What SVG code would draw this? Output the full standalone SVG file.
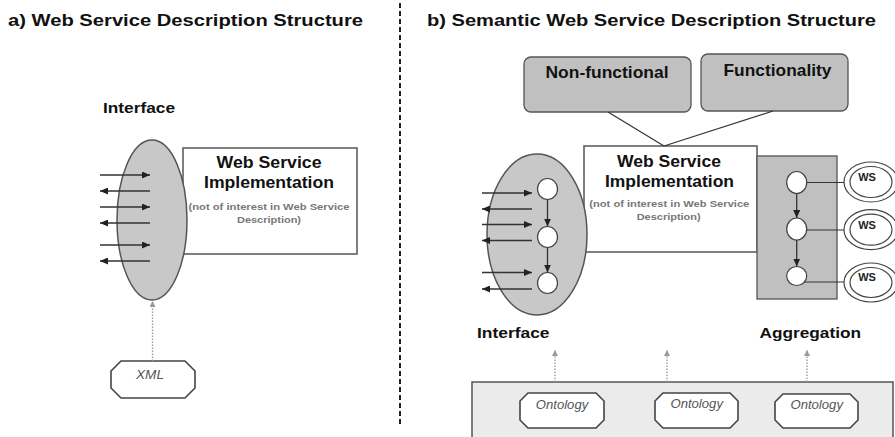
<svg xmlns="http://www.w3.org/2000/svg" width="895" height="437" viewBox="0 0 895 437">
<style>
.title{font-family:"Liberation Sans",Arial,sans-serif;font-weight:bold;font-size:16px;fill:#111}
.lbl{font-family:"Liberation Sans",Arial,sans-serif;font-weight:bold;font-size:15px;fill:#111}
.big{font-family:"Liberation Sans",Arial,sans-serif;font-weight:bold;font-size:17px;fill:#111;text-anchor:middle}
.small{font-family:"Liberation Sans",Arial,sans-serif;font-weight:bold;font-size:9.5px;fill:#777;text-anchor:middle}
.ital{font-family:"Liberation Sans",Arial,sans-serif;font-style:italic;font-size:12.5px;fill:#555;text-anchor:middle}
.ws{font-family:"Liberation Sans",Arial,sans-serif;font-weight:bold;font-size:11px;fill:#222;text-anchor:middle}
.iface{fill:#c8c8c8;stroke:#555;stroke-width:1.5}
.impl{fill:#fff;stroke:#555;stroke-width:1.5}
.grey{fill:#c0c0c0;stroke:#555;stroke-width:1.3}
.node{fill:#fff;stroke:#444;stroke-width:1.2}
.oct{fill:#fff;stroke:#444;stroke-width:1.6}
.arr{stroke:#333;stroke-width:1.3;fill:none;marker-end:url(#ah)}
.dot{stroke:#999;stroke-width:1.3;stroke-dasharray:1.5 1.5;fill:none;marker-end:url(#gh)}
.ln{stroke:#333;stroke-width:1.2;fill:none}
</style>
<defs>
<marker id="ah" markerUnits="userSpaceOnUse" markerWidth="8" markerHeight="7" refX="8" refY="3.5" orient="auto"><path d="M0,0 L8,3.5 L0,7 z" fill="#222"/></marker>
<marker id="gh" markerUnits="userSpaceOnUse" markerWidth="6" markerHeight="6" refX="6" refY="3" orient="auto"><path d="M0,0 L6,3 L0,6 z" fill="#999"/></marker>
</defs>
<rect width="895" height="437" fill="#fff"/>

<!-- titles and divider -->
<text class="title" x="8" y="26" textLength="355" lengthAdjust="spacingAndGlyphs">a)  Web Service Description Structure</text>
<text class="title" x="427" y="26" textLength="449" lengthAdjust="spacingAndGlyphs">b)  Semantic Web Service Description Structure</text>
<line x1="400" y1="3" x2="400" y2="427" stroke="#222" stroke-width="2" stroke-dasharray="5 3"/>

<!-- ===== Panel a ===== -->
<g id="a-impl">
<rect class="impl" x="183" y="148" width="174" height="106"/>
</g>
<g id="a-interface">
<ellipse class="iface" cx="152" cy="220" rx="35" ry="80"/>
<text class="lbl" x="103" y="113" textLength="72" lengthAdjust="spacingAndGlyphs">Interface</text>
</g>
<g id="a-impl-text">
<text class="big" x="269" y="168" textLength="105" lengthAdjust="spacingAndGlyphs">Web Service</text>
<text class="big" x="269" y="188" textLength="130" lengthAdjust="spacingAndGlyphs">Implementation</text>
<text class="small" x="269" y="210" textLength="161" lengthAdjust="spacingAndGlyphs">(not of interest in Web Service</text>
<text class="small" x="269" y="222.5" textLength="64" lengthAdjust="spacingAndGlyphs">Description)</text>
</g>
<g id="a-xml">
<polygon class="oct" points="121,361 185,361 195,371 195,388 185,398 121,398 111,388 111,371"/>
<text class="ital" x="150" y="379" textLength="28" lengthAdjust="spacingAndGlyphs">XML</text>
</g>

<!-- ===== Panel b ===== -->
<g id="b-nonfunctional">
<rect class="grey" x="524" y="57" width="167" height="55" rx="7"/>
<text class="big" x="607" y="78" textLength="123" lengthAdjust="spacingAndGlyphs">Non-functional</text>
</g>
<g id="b-functionality">
<rect class="grey" x="701" y="54" width="147" height="57" rx="7"/>
<text class="big" x="777.5" y="76" textLength="108" lengthAdjust="spacingAndGlyphs">Functionality</text>
</g>
<g id="b-impl">
<rect class="impl" x="584" y="146" width="173" height="106"/>
</g>
<g id="b-interface">
<ellipse class="iface" cx="537" cy="234.5" rx="50" ry="80.5"/>
<ellipse class="node" cx="547.5" cy="189" rx="10" ry="10.5"/>
<ellipse class="node" cx="547.5" cy="237" rx="10" ry="10.5"/>
<ellipse class="node" cx="547.5" cy="283" rx="10" ry="10.5"/>
<text class="lbl" x="477" y="338" textLength="72.5" lengthAdjust="spacingAndGlyphs">Interface</text>
</g>
<g id="b-impl-text">
<text class="big" x="669" y="166.5" textLength="104" lengthAdjust="spacingAndGlyphs">Web Service</text>
<text class="big" x="669.5" y="187" textLength="129" lengthAdjust="spacingAndGlyphs">Implementation</text>
<text class="small" x="669.3" y="206.5" textLength="160" lengthAdjust="spacingAndGlyphs">(not of interest in Web Service</text>
<text class="small" x="668.7" y="220" textLength="64" lengthAdjust="spacingAndGlyphs">Description)</text>
</g>
<g id="b-aggregation">
<rect class="grey" x="757" y="156" width="80" height="143"/>
<ellipse class="node" cx="796.7" cy="182.5" rx="10" ry="11"/>
<ellipse class="node" cx="796.7" cy="229" rx="10" ry="11"/>
<ellipse class="node" cx="796.7" cy="276" rx="10" ry="9.5"/>
<text class="lbl" x="759.5" y="338" textLength="101.5" lengthAdjust="spacingAndGlyphs">Aggregation</text>
</g>
<g id="b-ws1">
<ellipse class="node" cx="871" cy="182" rx="27" ry="20"/>
<ellipse class="node" cx="871" cy="182" rx="21" ry="15.5"/>
<text class="ws" x="867" y="181">WS</text>
</g>
<g id="b-ws2">
<ellipse class="node" cx="871" cy="229.7" rx="27" ry="20"/>
<ellipse class="node" cx="871" cy="229.7" rx="21" ry="15.5"/>
<text class="ws" x="867" y="228.5">WS</text>
</g>
<g id="b-ws3">
<ellipse class="node" cx="871" cy="282.5" rx="27" ry="19.5"/>
<ellipse class="node" cx="871" cy="282.5" rx="21" ry="15"/>
<text class="ws" x="867" y="281">WS</text>
</g>
<g id="b-ontologies">
<rect x="472" y="382" width="421" height="60" fill="#ebebeb" stroke="#555" stroke-width="1.5"/>
<polygon class="oct" points="528,393 596,393 604,401 604,420 596,428 528,428 520,420 520,401"/>
<text class="ital" x="562" y="408.5" textLength="52.5" lengthAdjust="spacingAndGlyphs">Ontology</text>
<polygon class="oct" points="663,393 730,393 738,401 738,420 730,428 663,428 655,420 655,401"/>
<text class="ital" x="696.7" y="408" textLength="52.5" lengthAdjust="spacingAndGlyphs">Ontology</text>
<polygon class="oct" points="783,394 850,394 858,402 858,420 850,428 783,428 775,420 775,402"/>
<text class="ital" x="816.7" y="409" textLength="52.5" lengthAdjust="spacingAndGlyphs">Ontology</text>
</g>

<!-- connectors -->
<g id="connectors">
<!-- panel a message arrows -->
<line class="arr" x1="100" y1="175" x2="150" y2="175"/>
<line class="arr" x1="150" y1="191" x2="100" y2="191"/>
<line class="arr" x1="100" y1="207" x2="150" y2="207"/>
<line class="arr" x1="150" y1="223" x2="100" y2="223"/>
<line class="arr" x1="100" y1="245" x2="150" y2="245"/>
<line class="arr" x1="150" y1="261" x2="100" y2="261"/>
<line class="dot" x1="152.5" y1="361" x2="152.5" y2="301"/>
<!-- panel b message arrows -->
<line class="arr" x1="482" y1="193" x2="532" y2="193"/>
<line class="arr" x1="532" y1="209" x2="482" y2="209"/>
<line class="arr" x1="482" y1="224.5" x2="532" y2="224.5"/>
<line class="arr" x1="532" y1="240.5" x2="482" y2="240.5"/>
<line class="arr" x1="482" y1="272.5" x2="532" y2="272.5"/>
<line class="arr" x1="532" y1="289" x2="482" y2="289"/>
<!-- interface flow -->
<line class="arr" x1="547.5" y1="199.5" x2="547.5" y2="226.5"/>
<line class="arr" x1="547.5" y1="247.5" x2="547.5" y2="272.5"/>
<!-- aggregation flow -->
<line class="arr" x1="796.7" y1="193.5" x2="796.7" y2="218"/>
<line class="arr" x1="796.7" y1="240" x2="796.7" y2="266.5"/>
<!-- to WS -->
<line class="ln" x1="806.7" y1="182.5" x2="844" y2="182.5"/>
<line class="ln" x1="806.7" y1="230" x2="844" y2="230"/>
<line class="ln" x1="804" y1="282" x2="844" y2="282"/>
<!-- descriptions to implementation -->
<line class="ln" x1="608" y1="112" x2="664" y2="146"/>
<line class="ln" x1="773" y1="111" x2="664" y2="146"/>
<!-- ontology references -->
<line class="dot" x1="555" y1="382" x2="555" y2="350"/>
<line class="dot" x1="667" y1="382" x2="667" y2="350"/>
<line class="dot" x1="807" y1="382" x2="807" y2="350"/>
</g>
</svg>
